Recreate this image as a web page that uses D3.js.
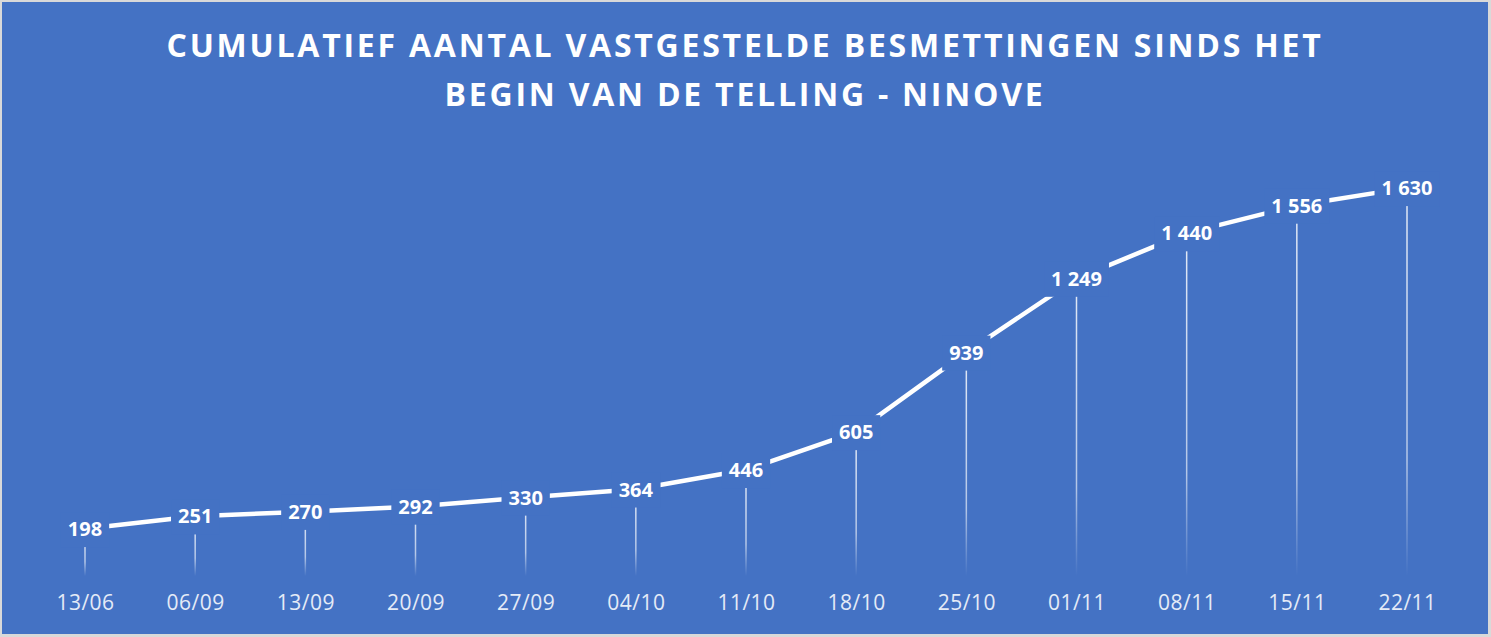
<!DOCTYPE html>
<html><head><meta charset="utf-8">
<script src="https://cdn.jsdelivr.net/npm/d3@7"></script>
<style>
html,body{margin:0;padding:0;background:#fff;}
svg{display:block;}
</style></head>
<body>
<svg id="chart" width="1491" height="637"></svg>
<script>
const categories = ["13/06","06/09","13/09","20/09","27/09","04/10","11/10","18/10","25/10","01/11","08/11","15/11","22/11"];
const values = [198,251,270,292,330,364,446,605,939,1249,1440,1556,1630];
const titleLines = ["CUMULATIEF AANTAL VASTGESTELDE BESMETTINGEN SINDS HET","BEGIN VAN DE TELLING - NINOVE"];

const W = 1491, H = 637;
const bg = "#4472C4";
const svg = d3.select("#chart");
const defs = svg.append("defs");

// frame
svg.append("rect").attr("x",0).attr("y",0).attr("width",W).attr("height",H).attr("fill","#d9d9d9");
svg.append("rect").attr("x",2).attr("y",2).attr("width",W-5).attr("height",H-5).attr("fill",bg);

// title
const tt = svg.append("g").selectAll("text").data(titleLines).join("text")
  .attr("x",745).attr("y",(d,i)=>57+i*49)
  .attr("text-anchor","middle")
  .attr("fill","#fff")
  .style("font-family","'Open Sans', sans-serif")
  .style("font-weight","700")
  .style("font-size","32px")
  .text(d=>d);
{
  const n0 = tt.nodes()[0];
  const nat = n0.getComputedTextLength();
  const ls = Math.max(0,(1157 - nat)/titleLines[0].length);
  tt.style("letter-spacing", ls+"px");
}

const x = d3.scalePoint().domain(categories).range([85,1407]);
const y = d3.scaleLinear().domain([0,1800]).range([576,147.4]);

const fmt = d3.formatLocale({decimal:",",thousands:" ",grouping:[3],currency:["","€"]}).format(",d");

// drop-line gradient
const grad = defs.append("linearGradient").attr("id","dropGrad")
  .attr("x1",0).attr("y1",0).attr("x2",0).attr("y2",1);
grad.append("stop").attr("offset","0%").attr("stop-color","#fff").attr("stop-opacity",0.85);
grad.append("stop").attr("offset","70%").attr("stop-color","#fff").attr("stop-opacity",0.6);
grad.append("stop").attr("offset","100%").attr("stop-color","#fff").attr("stop-opacity",0);

const pts = categories.map((c,i)=>({c, v:values[i]}));

// drop lines
svg.append("g").selectAll("rect").data(pts).join("rect")
  .attr("x",d=>x(d.c)-0.75).attr("width",1.5)
  .attr("y",d=>y(d.v)).attr("height",d=>y(0)-y(d.v))
  .attr("fill","url(#dropGrad)");

// line
const line = d3.line().x(d=>x(d.c)).y(d=>y(d.v));
svg.append("path").datum(pts).attr("d",line)
  .attr("fill","none").attr("stroke","#fff").attr("stroke-width",4.5)
  .attr("stroke-linejoin","round");

// data labels with background knock-out
const lg = svg.append("g");
const labels = lg.selectAll("g").data(pts).join("g")
  .attr("transform",d=>`translate(${x(d.c)},${y(d.v)})`);
labels.append("rect").attr("fill",bg);
labels.append("text")
  .attr("text-anchor","middle").attr("dy","0.36em")
  .attr("fill","#fff")
  .style("font-family","'Open Sans', sans-serif")
  .style("font-weight","700")
  .style("font-size","20px")
  .text(d=>fmt(d.v));
labels.each(function(){
  const g = d3.select(this);
  const bb = g.select("text").node().getBBox();
  g.select("rect").attr("x",bb.x-7).attr("y",bb.y-3).attr("width",bb.width+14).attr("height",bb.height+8);
});

// x axis labels
const xAxis = d3.axisBottom(x).tickSize(0).tickPadding(0);
const ax = svg.append("g").attr("transform","translate(0,595)").call(xAxis);
ax.select(".domain").remove();
ax.selectAll("text")
  .attr("fill","#e4ebf7")
  .style("font-family","'Open Sans', sans-serif")
  .style("font-size","21px")
  .style("letter-spacing","0.5px");
</script>
</body></html>
